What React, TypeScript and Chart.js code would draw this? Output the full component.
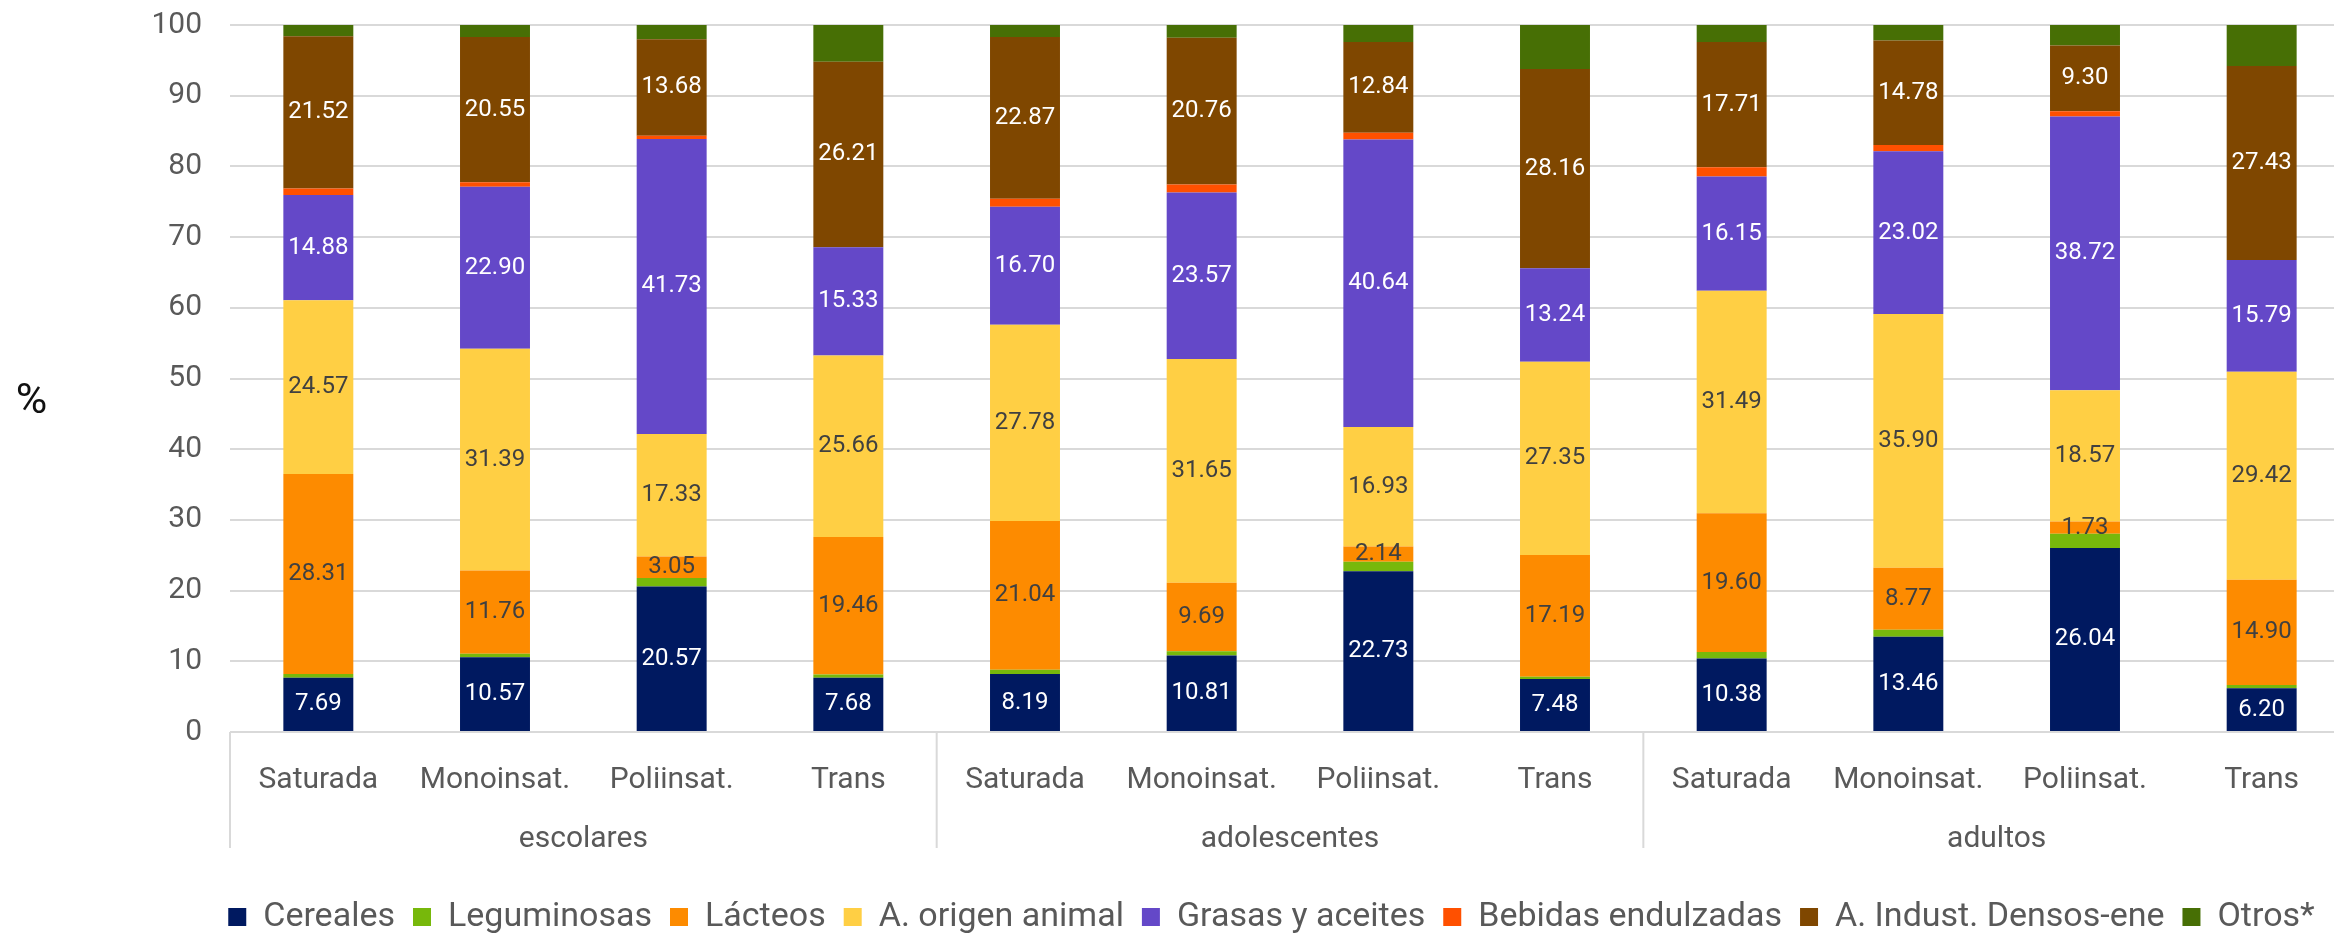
import React, { useEffect, useRef } from 'react';
import { Chart, registerables } from 'chart.js';

Chart.register(...registerables);

const categories = [
  'Saturada', 'Monoinsat.', 'Poliinsat.', 'Trans',
  'Saturada', 'Monoinsat.', 'Poliinsat.', 'Trans',
  'Saturada', 'Monoinsat.', 'Poliinsat.', 'Trans',
];
const groups = ['escolares', 'adolescentes', 'adultos'];
const yMin = 0;
const yMax = 100;
const yStep = 10;

const cereales = [7.69, 10.57, 20.57, 7.68, 8.19, 10.81, 22.73, 7.48, 10.38, 13.46, 26.04, 6.2];
const leguminosas = [0.5, 0.5, 1.2, 0.45, 0.6, 0.6, 1.35, 0.35, 0.95, 1.0, 2.0, 0.45];
const lacteos = [28.31, 11.76, 3.05, 19.46, 21.04, 9.69, 2.14, 17.19, 19.6, 8.77, 1.73, 14.9];
const origenAnimal = [24.57, 31.39, 17.33, 25.66, 27.78, 31.65, 16.93, 27.35, 31.49, 35.9, 18.57, 29.42];
const grasas = [14.88, 22.9, 41.73, 15.33, 16.7, 23.57, 40.64, 13.24, 16.15, 23.02, 38.72, 15.79];
const bebidas = [0.93, 0.63, 0.44, 0.0, 1.12, 1.12, 0.97, 0.0, 1.32, 0.87, 0.74, 0.0];
const industriales = [21.52, 20.55, 13.68, 26.21, 22.87, 20.76, 12.84, 28.16, 17.71, 14.78, 9.3, 27.43];
const otros = [1.6, 1.7, 2.0, 5.21, 1.7, 1.8, 2.4, 6.23, 2.4, 2.2, 2.9, 5.81];

const seriesNames = [
  'Cereales', 'Leguminosas', 'Lácteos', 'A. origen animal',
  'Grasas y aceites', 'Bebidas endulzadas', 'A. Indust. Densos-ene', 'Otros*',
];
const seriesValues = [cereales, leguminosas, lacteos, origenAnimal, grasas, bebidas, industriales, otros];
const seriesColors = ['#001960', '#77B80B', '#FD8B00', '#FFCF44', '#6448C8', '#FF5000', '#7F4700', '#476F05'];
const labelColors: (string | null)[] = ['#FFFFFF', null, '#404040', '#404040', '#FFFFFF', null, '#FFFFFF', null];

const FONT = 'Roboto';

const segLabels = {
  id: 'segLabels',
  afterDatasetsDraw(chart: any) {
    const ctx = chart.ctx;
    chart.data.datasets.forEach((ds: any, i: number) => {
      const color = labelColors[i];
      if (!color) return;
      const meta = chart.getDatasetMeta(i);
      meta.data.forEach((el: any, j: number) => {
        const v = ds.data[j];
        const { x, y, base } = el.getProps(['x', 'y', 'base'], true);
        ctx.save();
        ctx.font = `24px ${FONT}`;
        ctx.fillStyle = color;
        ctx.textAlign = 'center';
        ctx.textBaseline = 'middle';
        ctx.fillText(v.toFixed(2), x, (y + base) / 2);
        ctx.restore();
      });
    });
  },
};

const groupLines = {
  id: 'groupLines',
  afterDraw(chart: any) {
    const ctx = chart.ctx;
    const xs = chart.scales.x;
    const per = categories.length / groups.length;
    const bounds: number[] = [chart.chartArea.left];
    for (let g = 1; g < groups.length; g++) {
      const i = g * per;
      bounds.push((xs.getPixelForValue(i - 1) + xs.getPixelForValue(i)) / 2);
    }
    bounds.push(chart.chartArea.right);
    ctx.save();
    ctx.strokeStyle = '#D9D9D9';
    ctx.lineWidth = 2;
    bounds.forEach((bx) => {
      ctx.beginPath();
      ctx.moveTo(bx, chart.chartArea.bottom);
      ctx.lineTo(bx, 848);
      ctx.stroke();
    });
    ctx.font = `43px ${FONT}`;
    ctx.fillStyle = '#111111';
    ctx.textAlign = 'center';
    ctx.textBaseline = 'middle';
    ctx.fillText('%', 31.5, 402);
    ctx.restore();
  },
};

const legendHeight = {
  id: 'legendHeight',
  beforeInit(chart: any) {
    const lg = chart.legend;
    if (lg) {
      const orig = lg.fit;
      lg.fit = function () {
        orig.call(this);
        this.height = 53;
      };
    }
  },
};

export default function App() {
  const ref = useRef<HTMLCanvasElement>(null);

  useEffect(() => {
    if (!ref.current) return;
    const tickFont = { family: FONT, size: 30 };
    const chart = new Chart(ref.current, {
      type: 'bar',
      data: {
        labels: categories,
        datasets: seriesNames.map((name, i) => ({
          label: name,
          data: seriesValues[i],
          backgroundColor: seriesColors[i],
          borderWidth: 0,
          barPercentage: 0.396,
          categoryPercentage: 1.0,
        })),
      },
      options: {
        responsive: false,
        animation: false,
        devicePixelRatio: 1,
        layout: { padding: { left: 193, right: 0, top: 25, bottom: 0 } },
        plugins: {
          legend: {
            position: 'bottom',
            labels: {
              boxWidth: 18,
              boxHeight: 18,
              padding: 18,
              color: '#595959',
              font: { family: FONT, size: 34 },
            },
          },
          tooltip: { enabled: false },
          title: { display: false },
        },
        scales: {
          x: {
            stacked: true,
            offset: true,
            grid: { display: false },
            border: { display: false },
            ticks: {
              color: '#595959',
              font: tickFont,
              padding: 22,
              maxRotation: 0,
              autoSkip: false,
            },
            afterFit: (s: any) => {
              s.height = 70;
            },
          },
          x2: {
            type: 'category',
            labels: groups,
            position: 'bottom',
            weight: 1,
            offset: true,
            grid: { display: false },
            border: { display: false },
            ticks: {
              color: '#595959',
              font: tickFont,
              padding: 11,
              maxRotation: 0,
              autoSkip: false,
            },
            afterFit: (s: any) => {
              s.height = 80;
            },
          },
          y: {
            stacked: true,
            min: yMin,
            max: yMax,
            ticks: {
              stepSize: yStep,
              color: '#595959',
              font: tickFont,
              padding: 28,
            },
            grid: { color: '#D9D9D9', lineWidth: 2, drawTicks: false },
            border: { display: false },
            afterFit: (s: any) => {
              s.width = 37;
              s.paddingTop = 0;
              s.paddingBottom = 0;
              s._computeLabelArea = () => undefined;
            },
          },
        },
      },
      plugins: [segLabels, groupLines, legendHeight],
    } as any);
    return () => chart.destroy();
  }, []);

  return (
    <div
      style={{
        position: 'fixed',
        left: 0,
        top: 0,
        width: 2334,
        height: 935,
        overflow: 'hidden',
        background: '#FFFFFF',
      }}
    >
      <canvas ref={ref} width={2350} height={935} style={{ width: 2350, height: 935, display: 'block' }} />
    </div>
  );
}
